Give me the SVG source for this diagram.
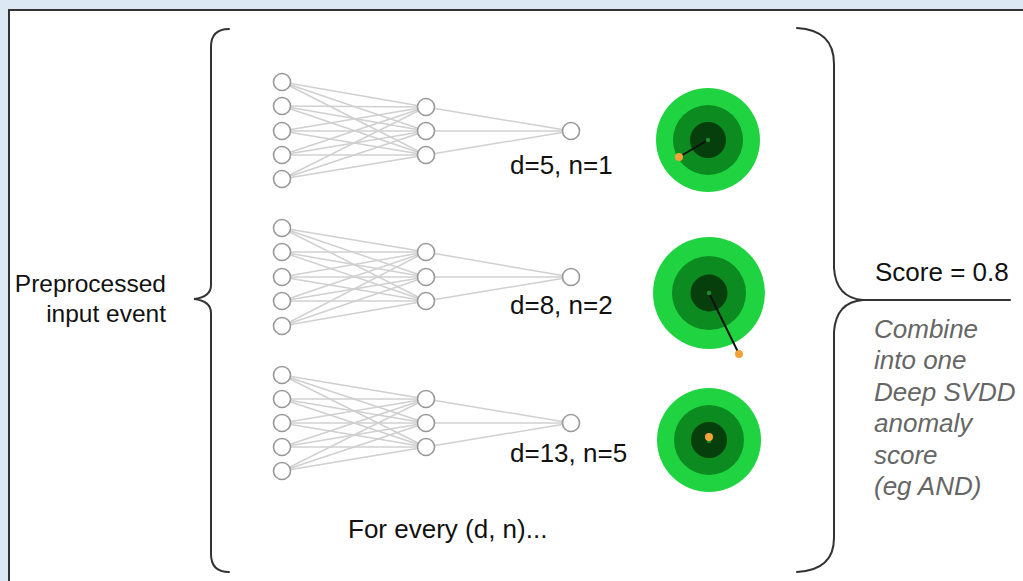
<svg xmlns="http://www.w3.org/2000/svg" width="1023" height="581" viewBox="0 0 1023 581">
  <style>
    .lbl { font-family: "Liberation Sans", Arial, sans-serif; font-size: 26px; fill: #111; }
    .side { font-size: 24.5px; }
    .note { font-family: "Liberation Sans", Arial, sans-serif; font-size: 26px; font-style: italic; fill: #666; }
    .brace { fill: none; stroke: #333; stroke-width: 2; stroke-linecap: round; }
    .edge { stroke: #d0d0d0; stroke-width: 1.5; }
    .neuron { fill: #fff; stroke: #999; stroke-width: 1.6; }
    .ring1 { fill: #20d441; }
    .ring2 { fill: #0b8b20; }
    .ring3 { fill: #063f0c; }
    .core { fill: #1f8a2c; }
    .pt { fill: #f4a23a; }
    .dist { stroke: #111; stroke-width: 2; }
  </style>

  <!-- page frame -->
  <rect x="0" y="0" width="1023" height="581" fill="#dde8f5"/>
  <rect x="9" y="10" width="1020" height="580" fill="#fff"/>
  <path d="M 9 590 L 9 10 L 1023 10" fill="none" stroke="#333" stroke-width="2"/>

  <!-- connectors: fully connected layers -->
  <g id="connectors">
    <!-- net 1 -->
    <g id="edges-net1">
      <line class="edge" x1="282" y1="82" x2="426" y2="107"/><line class="edge" x1="282" y1="82" x2="426" y2="131"/><line class="edge" x1="282" y1="82" x2="426" y2="155"/>
      <line class="edge" x1="282" y1="106" x2="426" y2="107"/><line class="edge" x1="282" y1="106" x2="426" y2="131"/><line class="edge" x1="282" y1="106" x2="426" y2="155"/>
      <line class="edge" x1="282" y1="131" x2="426" y2="107"/><line class="edge" x1="282" y1="131" x2="426" y2="131"/><line class="edge" x1="282" y1="131" x2="426" y2="155"/>
      <line class="edge" x1="282" y1="155" x2="426" y2="107"/><line class="edge" x1="282" y1="155" x2="426" y2="131"/><line class="edge" x1="282" y1="155" x2="426" y2="155"/>
      <line class="edge" x1="282" y1="179" x2="426" y2="107"/><line class="edge" x1="282" y1="179" x2="426" y2="131"/><line class="edge" x1="282" y1="179" x2="426" y2="155"/>
      <line class="edge" x1="426" y1="107" x2="571" y2="131"/><line class="edge" x1="426" y1="131" x2="571" y2="131"/><line class="edge" x1="426" y1="155" x2="571" y2="131"/>
    </g>
    <!-- net 2 -->
    <g id="edges-net2">
      <line class="edge" x1="282" y1="228" x2="426" y2="252"/><line class="edge" x1="282" y1="228" x2="426" y2="277"/><line class="edge" x1="282" y1="228" x2="426" y2="301"/>
      <line class="edge" x1="282" y1="252" x2="426" y2="252"/><line class="edge" x1="282" y1="252" x2="426" y2="277"/><line class="edge" x1="282" y1="252" x2="426" y2="301"/>
      <line class="edge" x1="282" y1="277" x2="426" y2="252"/><line class="edge" x1="282" y1="277" x2="426" y2="277"/><line class="edge" x1="282" y1="277" x2="426" y2="301"/>
      <line class="edge" x1="282" y1="301" x2="426" y2="252"/><line class="edge" x1="282" y1="301" x2="426" y2="277"/><line class="edge" x1="282" y1="301" x2="426" y2="301"/>
      <line class="edge" x1="282" y1="326" x2="426" y2="252"/><line class="edge" x1="282" y1="326" x2="426" y2="277"/><line class="edge" x1="282" y1="326" x2="426" y2="301"/>
      <line class="edge" x1="426" y1="252" x2="571" y2="277"/><line class="edge" x1="426" y1="277" x2="571" y2="277"/><line class="edge" x1="426" y1="301" x2="571" y2="277"/>
    </g>
    <!-- net 3 -->
    <g id="edges-net3">
      <line class="edge" x1="282" y1="375" x2="426" y2="399"/><line class="edge" x1="282" y1="375" x2="426" y2="423"/><line class="edge" x1="282" y1="375" x2="426" y2="447"/>
      <line class="edge" x1="282" y1="399" x2="426" y2="399"/><line class="edge" x1="282" y1="399" x2="426" y2="423"/><line class="edge" x1="282" y1="399" x2="426" y2="447"/>
      <line class="edge" x1="282" y1="423" x2="426" y2="399"/><line class="edge" x1="282" y1="423" x2="426" y2="423"/><line class="edge" x1="282" y1="423" x2="426" y2="447"/>
      <line class="edge" x1="282" y1="447" x2="426" y2="399"/><line class="edge" x1="282" y1="447" x2="426" y2="423"/><line class="edge" x1="282" y1="447" x2="426" y2="447"/>
      <line class="edge" x1="282" y1="471" x2="426" y2="399"/><line class="edge" x1="282" y1="471" x2="426" y2="423"/><line class="edge" x1="282" y1="471" x2="426" y2="447"/>
      <line class="edge" x1="426" y1="399" x2="571" y2="423"/><line class="edge" x1="426" y1="423" x2="571" y2="423"/><line class="edge" x1="426" y1="447" x2="571" y2="423"/>
    </g>
  </g>

  <!-- network 1: d=5, n=1 -->
  <g id="net1">
    <circle class="neuron" cx="282" cy="82" r="8.5"/><circle class="neuron" cx="282" cy="106" r="8.5"/><circle class="neuron" cx="282" cy="131" r="8.5"/><circle class="neuron" cx="282" cy="155" r="8.5"/><circle class="neuron" cx="282" cy="179" r="8.5"/>
    <circle class="neuron" cx="426" cy="107" r="8.5"/><circle class="neuron" cx="426" cy="131" r="8.5"/><circle class="neuron" cx="426" cy="155" r="8.5"/>
    <circle class="neuron" cx="571" cy="131" r="8.5"/>
    <text class="lbl" x="510" y="174">d=5, n=1</text>
  </g>

  <!-- network 2: d=8, n=2 -->
  <g id="net2">
    <circle class="neuron" cx="282" cy="228" r="8.5"/><circle class="neuron" cx="282" cy="252" r="8.5"/><circle class="neuron" cx="282" cy="277" r="8.5"/><circle class="neuron" cx="282" cy="301" r="8.5"/><circle class="neuron" cx="282" cy="326" r="8.5"/>
    <circle class="neuron" cx="426" cy="252" r="8.5"/><circle class="neuron" cx="426" cy="277" r="8.5"/><circle class="neuron" cx="426" cy="301" r="8.5"/>
    <circle class="neuron" cx="571" cy="277" r="8.5"/>
    <text class="lbl" x="510" y="314">d=8, n=2</text>
  </g>

  <!-- network 3: d=13, n=5 -->
  <g id="net3">
    <circle class="neuron" cx="282" cy="375" r="8.5"/><circle class="neuron" cx="282" cy="399" r="8.5"/><circle class="neuron" cx="282" cy="423" r="8.5"/><circle class="neuron" cx="282" cy="447" r="8.5"/><circle class="neuron" cx="282" cy="471" r="8.5"/>
    <circle class="neuron" cx="426" cy="399" r="8.5"/><circle class="neuron" cx="426" cy="423" r="8.5"/><circle class="neuron" cx="426" cy="447" r="8.5"/>
    <circle class="neuron" cx="571" cy="423" r="8.5"/>
    <text class="lbl" x="510" y="462">d=13, n=5</text>
  </g>

  <!-- hypersphere targets -->
  <g id="sphere1">
    <circle class="ring1" cx="708" cy="140" r="52"/>
    <circle class="ring2" cx="708" cy="140" r="35"/>
    <circle class="ring3" cx="708" cy="140" r="18"/>
    <line class="dist" x1="708" y1="140" x2="679" y2="157"/>
    <circle class="core" cx="708" cy="140" r="2.2"/>
    <circle class="pt" cx="679" cy="157" r="4"/>
  </g>
  <g id="sphere2">
    <circle class="ring1" cx="709" cy="293" r="56"/>
    <circle class="ring2" cx="709" cy="293" r="37"/>
    <circle class="ring3" cx="709" cy="293" r="18.5"/>
    <line class="dist" x1="709" y1="293" x2="739" y2="354"/>
    <circle class="core" cx="709" cy="293" r="2.2"/>
    <circle class="pt" cx="739" cy="354" r="4"/>
  </g>
  <g id="sphere3">
    <circle class="ring1" cx="709" cy="440" r="52"/>
    <circle class="ring2" cx="709" cy="440" r="35"/>
    <circle class="ring3" cx="709" cy="440" r="18"/>
    <circle class="core" cx="709" cy="441" r="2.2"/>
    <circle class="pt" cx="709" cy="437" r="4"/>
  </g>

  <!-- input label and left brace -->
  <g id="input">
    <text class="lbl side" x="166" y="292" text-anchor="end">Preprocessed</text>
    <text class="lbl side" x="166" y="322" text-anchor="end">input event</text>
    <path class="brace" d="M 229 29 Q 211 29 211 47 L 211 285 Q 211 297 194 299 Q 211 301 211 313 L 211 554 Q 211 572 229 572"/>
  </g>

  <text class="lbl" x="348" y="538">For every (d, n)...</text>

  <!-- output: right brace, score and note -->
  <g id="output">
    <path class="brace" d="M 797 28 Q 834 30 834 64 L 834 268 Q 836 298 863 300 L 1010 300"/>
    <path class="brace" d="M 863 300 Q 836 302 834 332 L 834 538 Q 834 570 797 572"/>
    <text class="lbl" x="875" y="281">Score = 0.8</text>
    <text class="note" x="874" y="338">Combine</text>
    <text class="note" x="874" y="369">into one</text>
    <text class="note" x="874" y="401">Deep SVDD</text>
    <text class="note" x="874" y="432">anomaly</text>
    <text class="note" x="874" y="464">score</text>
    <text class="note" x="874" y="495">(eg AND)</text>
  </g>
</svg>
